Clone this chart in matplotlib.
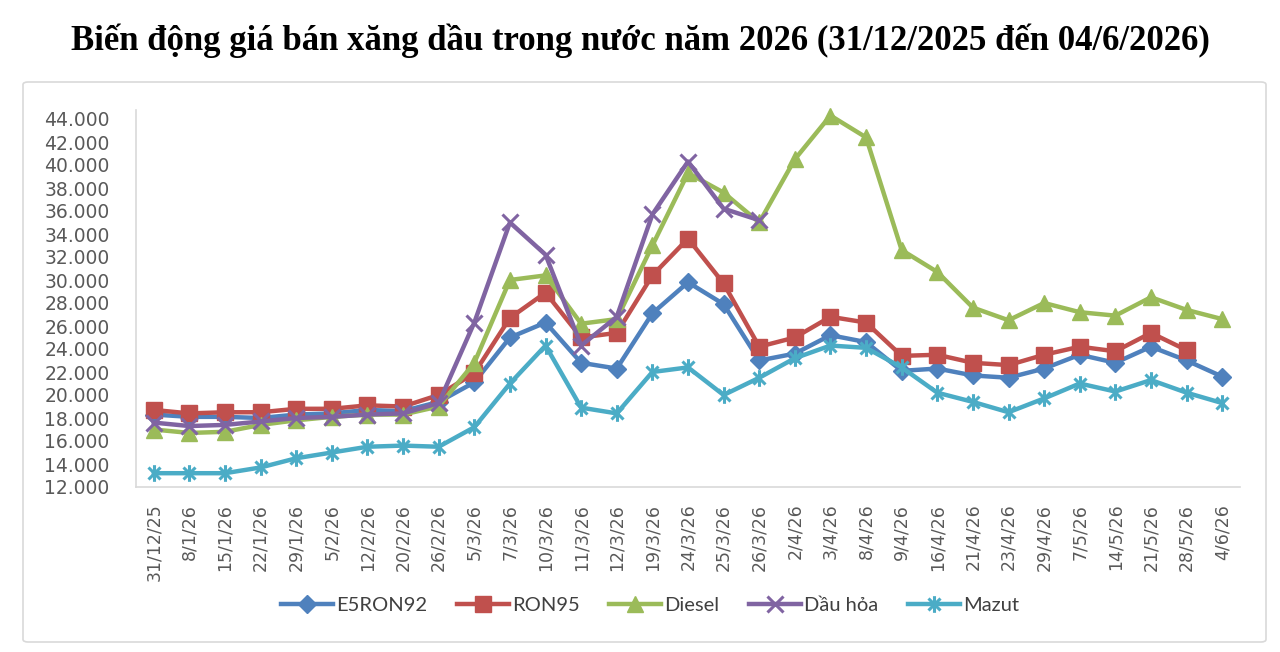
import numpy as np
import matplotlib
matplotlib.use("Agg")
import matplotlib.pyplot as plt
from matplotlib.path import Path
from matplotlib.patches import FancyBboxPatch
from matplotlib.ticker import FuncFormatter

dates = ["31/12/25", "8/1/26", "15/1/26", "22/1/26", "29/1/26", "5/2/26", "12/2/26",
         "20/2/26", "26/2/26", "5/3/26", "7/3/26", "10/3/26", "11/3/26", "12/3/26",
         "19/3/26", "24/3/26", "25/3/26", "26/3/26", "2/4/26", "3/4/26", "8/4/26",
         "9/4/26", "16/4/26", "21/4/26", "23/4/26", "29/4/26", "7/5/26", "14/5/26",
         "21/5/26", "28/5/26", "4/6/26"]

e5ron92 = [18300, 18100, 18100, 18000, 18300, 18400, 18700, 18600, 19400, 21100,
           25000, 26300, 22800, 22300, 27100, 29800, 27900, 23000, 23600, 25200,
           24600, 22100, 22300, 21700, 21500, 22300, 23500, 22800, 24200, 23000, 21600]
ron95 = [18700, 18400, 18500, 18500, 18800, 18800, 19100, 19000, 20000, 21900,
         26700, 28900, 25000, 25400, 30400, 33600, 29700, 24200, 25000, 26800,
         26300, 23400, 23500, 22800, 22600, 23500, 24200, 23800, 25400, 23900, np.nan]
diesel = [17000, 16700, 16800, 17400, 17800, 18100, 18300, 18300, 19000, 22800,
          30000, 30400, 26200, 26600, 33000, 39300, 37600, 35000, 40500, 44300,
          42400, 32600, 30700, 27600, 26500, 28000, 27200, 26900, 28500, 27400, 26600]
dau_hoa = [17600, 17300, 17400, 17700, 18000, 18100, 18300, 18400, 19300, 26300,
           35000, 32200, 24300, 26800, 35700, 40300, 36200, 35200] + [np.nan] * 13
mazut = [13200, 13200, 13200, 13700, 14500, 15000, 15500, 15600, 15500, 17200,
         21000, 24300, 18900, 18400, 22000, 22400, 20000, 21500, 23200, 24300,
         24100, 22400, 20200, 19400, 18500, 19700, 21000, 20300, 21300, 20200, 19300]

series_names = ["E5RON92", "RON95", "Diesel", "Dầu hỏa", "Mazut"]
series_values = [e5ron92, ron95, diesel, dau_hoa, mazut]
colors = ["#4F81BD", "#C0504D", "#9BBB59", "#8064A2", "#4BACC6"]

y_ticks = list(range(12000, 44001, 2000))

# asterisk marker (X plus vertical bar), like Excel
ast = Path([(0, -1), (0, 1), (-0.72, -0.72), (0.72, 0.72), (-0.72, 0.72), (0.72, -0.72)],
           [Path.MOVETO, Path.LINETO, Path.MOVETO, Path.LINETO, Path.MOVETO, Path.LINETO])
markers = ["D", "s", "^", "x", ast]
msizes = [9, 11.5, 11.5, 11, 12]

fig = plt.figure(figsize=(12.8, 6.52), dpi=100)

# outer chart border
border = FancyBboxPatch((23 / 1280, 1 - 642 / 652), (1266 - 23) / 1280, (642 - 82) / 652,
                        boxstyle="round,pad=0,rounding_size=0.004",
                        transform=fig.transFigure, fill=False, edgecolor="#D9D9D9",
                        linewidth=1.2)
fig.patches.append(border)

fig.text(0.5, 1 - 41 / 652,
         "Biến động giá bán xăng dầu trong nước năm 2026 (31/12/2025 đến 04/6/2026)",
         ha="center", va="center", fontsize=25, fontweight="bold",
         family="Liberation Serif", color="black")

ax = fig.add_axes([136 / 1280, 1 - 487 / 652, 1104 / 1280, 377 / 652])
x = np.arange(len(dates))
for name, vals, c, m, ms in zip(series_names, series_values, colors, markers, msizes):
    filled = m in ("D", "s", "^")
    ax.plot(x, vals, color=c, lw=3.2, marker=m, markersize=ms,
            markerfacecolor=c, markeredgecolor=c,
            markeredgewidth=1 if filled else 2.2,
            label=name, clip_on=False, zorder=3)

ax.set_xlim(-0.5, len(dates) - 0.5)
ax.set_ylim(12000, 12000 + 377 / 11.5 * 1000)
ax.set_yticks(y_ticks)
ax.yaxis.set_major_formatter(FuncFormatter(lambda v, p: f"{int(v):,}".replace(",", ".")))
ax.set_xticks(x)
ax.set_xticklabels(dates, rotation=90, fontsize=12.5, color="#595959")
ax.tick_params(axis="y", labelsize=13.5, labelcolor="#595959", length=0, pad=19)
ax.tick_params(axis="x", length=0, pad=12)
for s in ["top", "right"]:
    ax.spines[s].set_visible(False)
for s in ["left", "bottom"]:
    ax.spines[s].set_color("#D9D9D9")
    ax.spines[s].set_linewidth(1.2)

leg = fig.legend(loc="center", bbox_to_anchor=(650 / 1280, 1 - 605 / 652), ncol=5,
                 frameon=False, prop={"family": "Lato", "size": 14.5},
                 handlelength=2.6, handletextpad=0.15, columnspacing=1.45,
                 labelcolor="#404040")

fig.savefig("out.png", dpi=100)
